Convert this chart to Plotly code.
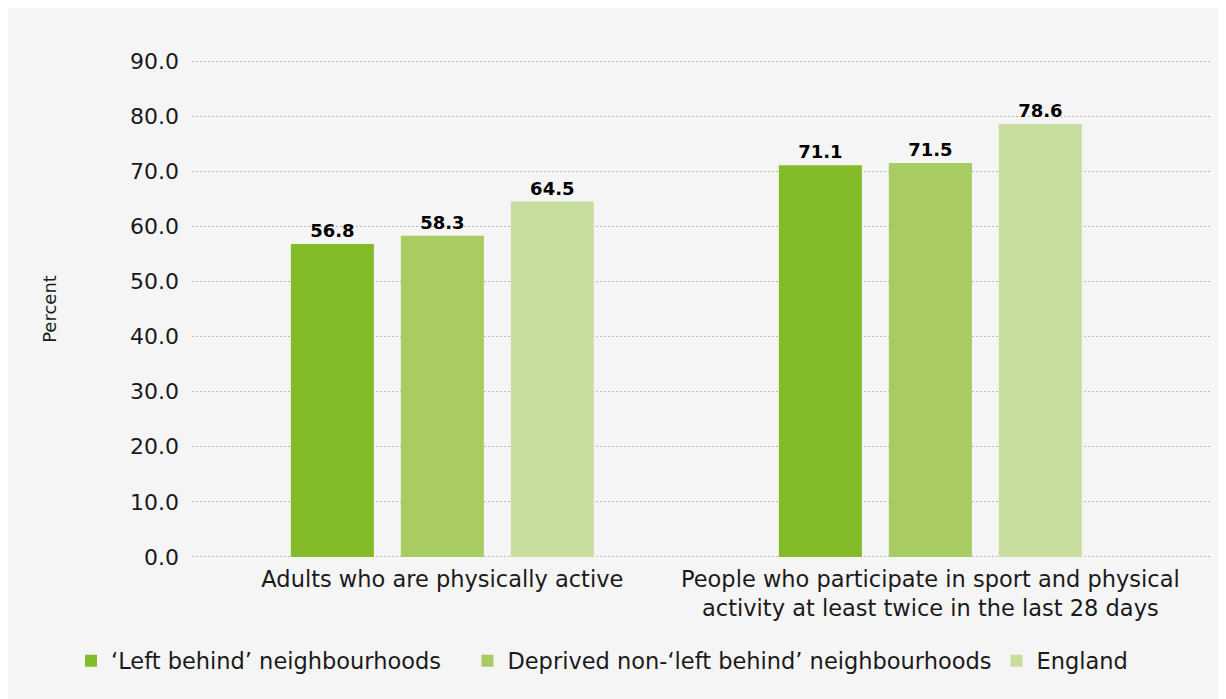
"""Physical activity in 'left behind' neighbourhoods vs comparators."""

import plotly.graph_objects as go

categories = [
    "Adults who are physically active",
    "People who participate in sport and physical<br>activity at least twice in the last 28 days",
]
series_names = [
    "\u2018Left behind\u2019 neighbourhoods",
    "Deprived non-\u2018left behind\u2019 neighbourhoods",
    "England",
]
left_behind = [56.8, 71.1]
deprived_non_lb = [58.3, 71.5]
england = [64.5, 78.6]

colors = ["#84bb29", "#a8cb62", "#c8de9e"]
# extra trailing space after each legend entry to match the source spacing
legend_pad = ["\u00a0\u00a0\u00a0", "", ""]
font_family = "'DejaVu Sans', 'Open Sans', sans-serif"

# figure sits 8px in from the page edge (body margin), so work in figure pixels
W, H = 1218, 699
L, R, T, B = 184, 16, 52, 149
pw, ph = W - L - R, H - T - B


def px_x(p):
    return (p - 8 - L) / pw


def px_y(p):
    return (H - B - (p - 8)) / ph


fig = go.Figure()

for name, pad, vals, col in zip(series_names, legend_pad,
                                [left_behind, deprived_non_lb, england], colors):
    fig.add_trace(
        go.Bar(
            x=categories,
            y=vals,
            name=name + pad,
            marker=dict(color=col, line=dict(width=0)),
            text=[f"{v:.1f}" for v in vals],
            textposition="outside",
            cliponaxis=False,
            textfont=dict(family="'DejaVu Sans', sans-serif", size=18, color="#000000", weight="bold"),
        )
    )

fig.update_layout(
    width=W,
    height=H,
    barmode="group",
    bargap=0.324,
    bargroupgap=0.245,
    paper_bgcolor="#f5f5f5",
    plot_bgcolor="#f5f5f5",
    margin=dict(l=L, r=R, t=T, b=B, autoexpand=False),
    font=dict(family=font_family, size=20, color="#1a1a1a"),
    showlegend=True,
    legend=dict(
        orientation="h",
        x=px_x(71),
        xanchor="left",
        y=px_y(661),
        yanchor="middle",
        font=dict(size=22.5, color="#1a1a1a"),
        bgcolor="rgba(0,0,0,0)",
        itemwidth=30,
        traceorder="normal",
    ),
    xaxis=dict(
        range=[-0.513, 1.573],
        showgrid=False,
        showline=False,
        ticks="",
        ticklabelstandoff=5,
        tickfont=dict(size=22.5),
    ),
    yaxis=dict(
        range=[-0.2, 90.2],
        dtick=10,
        tickformat=".1f",
        showgrid=True,
        gridcolor="#bdbdbd",
        griddash="2px,2px",
        gridwidth=1,
        zeroline=False,
        showline=False,
        ticks="",
        ticklabelstandoff=12,
        tickfont=dict(size=22),
        title=dict(text="Percent", font=dict(size=18), standoff=68),
    ),
)

fig.write_html("out.html")
